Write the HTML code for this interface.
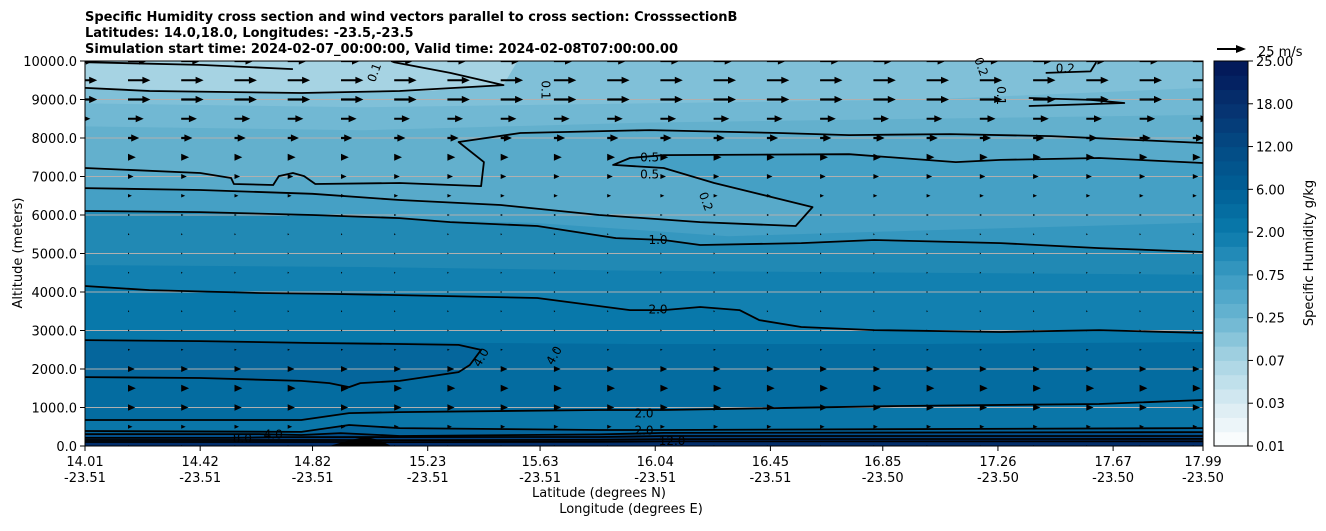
<!DOCTYPE html>
<html><head><meta charset="utf-8"><style>
body{margin:0;background:#fff}
svg text{font-family:"DejaVu Sans","Liberation Sans",sans-serif}
</style></head><body>
<svg id="chart" width="1326" height="526" xmlns="http://www.w3.org/2000/svg">
<defs><clipPath id="pc"><rect x="85" y="61" width="1118" height="385"/></clipPath></defs>
<g font-weight="bold" font-size="13">
<text x="85" y="21">Specific Humidity cross section and wind vectors parallel to cross section: CrosssectionB</text>
<text x="85" y="37">Latitudes: 14.0,18.0, Longitudes: -23.5,-23.5</text>
<text x="85" y="53">Simulation start time: 2024-02-07_00:00:00, Valid time: 2024-02-08T07:00:00.00</text>
</g>
<g id="fills" clip-path="url(#pc)"></g>
<g id="grid"></g>
<g id="lines" clip-path="url(#pc)"></g>
<g id="arrows" clip-path="url(#pc)"></g>
<g id="labels" font-size="12"></g>
<rect x="85" y="61" width="1118" height="385" fill="none" stroke="#000" stroke-width="1"/>
<g id="axes" font-size="13"></g>
<g id="cbar"></g>
<text x="599" y="497" font-size="13" text-anchor="middle">Latitude (degrees N)</text>
<text x="631" y="513" font-size="13" text-anchor="middle">Longitude (degrees E)</text>
<text transform="translate(22,253) rotate(-90)" font-size="13" text-anchor="middle">Altitude (meters)</text>
<text transform="translate(1313,253) rotate(-90)" font-size="13" text-anchor="middle">Specific Humidity g/kg</text>
<g>
<polygon points="1217,48 1236,48 1236,45 1246,49 1236,53 1236,50 1217,50" fill="#000"/>
<text x="1258" y="56" font-size="13">25 m/s</text>
</g>
</svg>
<script>
const xTickLats=[14.01,14.42,14.82,15.23,15.63,16.04,16.45,16.85,17.26,17.67,17.99];
const xTickLons=["-23.51","-23.51","-23.51","-23.51","-23.51","-23.51","-23.51","-23.50","-23.50","-23.50","-23.50"];
const yTicks=[0,1000,2000,3000,4000,5000,6000,7000,8000,9000,10000];
const cbarTicks=["0.01","0.03","0.07","0.25","0.75","2.00","6.00","12.00","18.00","25.00"];
const cbarAnchors=["#ffffff","#d8ebf2","#a8d4e3","#6ab5d1","#3a9ac2","#0a7aab","#005f96","#044a84","#06306e","#021556"];
const fillColors=["#80c0d8","#71b8d3","#63b0cd","#58aaca","#45a0c5","#3597bf","#2189b4","#1280b0","#0878aa","#046ca0","#05669c","#0a76a8","#05649b","#034f8b","#023f7d","#022d6a"];
const f0Lat=[14.01,14.42,14.82,15.23,15.5,15.55,17.99],f0Alt=[9300,9220,9170,9220,9380,10000,10000];
const f1Lat=[14.01,15,16,17,17.99],f1Alt=[8900,8800,8900,9000,9300];
const f2Lat=[14.01,15,16,17,17.99],f2Alt=[8300,8200,8400,8500,8600];
const c02Lat=[14.01,14.42,14.53,14.54,14.68,14.70,14.75,14.79,14.83,15.13,15.42,15.43,15.34,15.56,16.02,16.48,16.73,17.09,17.45,17.99];
const c02Alt=[7220,7090,6960,6805,6780,7010,7090,7010,6805,6830,6750,7375,7895,8130,8205,8130,8075,8100,8050,7870];
const c05Lat=[14.01,14.42,14.82,15.13,15.49,15.84,16.20,16.54,16.60,16.25,16.07,15.89,15.95,16.07,16.73,17.11,17.27,17.62,17.99];
const c05Alt=[6700,6650,6550,6390,6260,6000,5815,5715,6205,6830,7220,7300,7480,7555,7580,7375,7430,7480,7350];
const f5Lat=[14.01,15,15.6,16.3,17,17.99],f5Alt=[6000,5900,5800,5450,5600,5800];
const c10Lat=[14.01,14.42,14.82,15.13,15.31,15.62,15.90,16.07,16.20,16.56,16.82,17.27,17.62,17.99];
const c10Alt=[6105,6075,6000,5920,5815,5715,5400,5350,5220,5270,5350,5270,5140,5040];
const f8Lat=[14.01,15,16,17,17.99],f8Alt=[4700,4650,4550,4500,4450];
const c20Lat=[14.01,14.24,14.63,14.88,15.13,15.62,15.95,16.07,16.20,16.34,16.41,16.56,16.82,17.27,17.62,17.99];
const c20Alt=[4155,4050,3975,3950,3920,3845,3530,3530,3610,3530,3270,3090,3010,2960,3010,2935];
const f10Lat=[14.01,15,16,17,17.99],f10Alt=[2750,2700,2650,2650,2700];
const c40Lat=[14.01,14.42,14.82,15.13,15.34,15.42,15.38,15.34,15.13,14.99,14.95,14.88,14.78,14.42,14.01];
const c40Alt=[2750,2725,2675,2650,2625,2495,2105,1920,1690,1635,1530,1635,1690,1765,1790];
const c20lLat=[14.01,14.42,14.78,14.95,15.13,15.84,16.07,16.91,17.62,17.99];
const c20lAlt=[675,675,675,855,880,935,935,1040,1090,1195];
const c20bLat=[14.01,14.78,14.95,15.13,15.84,16.07,17.99];
const c20bAlt=[390,365,545,465,415,415,465];
const c40bLat=[14.01,14.63,14.78,14.92,15.13,15.84,16.07,17.99];const c40bAlt=[310,310,285,335,260,300,340,360];
const c80Lat=[14.01,14.53,14.70,15.84,16.07,17.99];const c80Alt=[210,210,230,235,260,260];
const c120Lat=[14.01,14.90,15.13,15.84,16.07,17.99];const c120Alt=[155,155,150,160,180,185];
const c160Lat=[14.01,14.90,15.13,15.84,16.07,17.99];const c160Alt=[105,105,100,110,120,120];
const mtnLat=[14.88,14.95,15.01,15.06,15.10];const mtnAlt=[0,150,240,150,0];
const c01aLat=[14.01,14.24,14.78,15.13,15.50,15.31,15.11,15.10];const c01aAlt=[9300,9220,9170,9220,9375,9690,9970,10000];
const c01bLat=[14.01,14.42,14.75];const c01bAlt=[9970,9900,9790];
const c01rLat=[17.37,17.59,17.71,17.59,17.37];const c01rAlt=[9040,8990,8910,8880,8830];
const c02rLat=[17.43,17.59,17.61];const c02rAlt=[9690,9730,9970];
const windAlts=[10000,9500,9000,8500,8000,7500,7000,6500,6000,5500,5000,4500,4000,3500,3000,2500,2000,1500,1000,500,0];
const windSpeeds=[17,20,20,14,10,7,5,3.5,2,1.3,1.2,1.2,1.2,1.2,1.3,2,6,7,6.5,4,2];
const windCols=22;
const cLabels=[["0.1",15.04,9700,-70],["0.1",15.65,9250,90],["0.1",17.27,9100,90],["0.2",17.2,9850,70],["0.2",17.5,9800,0],["0.5",16.02,7500,0],["0.5",16.02,7050,0],["0.2",16.22,6350,70],["1.0",16.05,5350,0],["2.0",16.05,3550,0],["4.0",15.42,2300,-60],["4.0",15.68,2350,-60],["2.0",16.0,850,0],["2.0",16.0,400,0],["4.0",14.68,300,0],["8.0",14.57,200,0],["12.0",16.1,130,0]];

const X0=85,X1=1203,Y0=446,Y1=61,LAT0=14.01,LAT1=17.99;
const xs=l=>X0+(l-LAT0)/(LAT1-LAT0)*(X1-X0);
const ys=a=>Y0+(a/10000)*(Y1-Y0);
const NS="http://www.w3.org/2000/svg";
function mk(t,p,at){const e=document.createElementNS(NS,t);for(const k in at)e.setAttribute(k,at[k]);p.appendChild(e);return e;}
const pts=(la,al)=>la.map((l,i)=>xs(l).toFixed(1)+","+ys(al[i]).toFixed(1)).join(" ");
const fills=document.getElementById('fills');
let bg=mk('rect',fills,{x:85,y:61,width:1118,height:385,fill:"#a6d3e3"});


const layers=[[f0Lat,f0Alt],[f1Lat,f1Alt],[f2Lat,f2Alt],[c02Lat,c02Alt],[c05Lat,c05Alt],[f5Lat,f5Alt],[c10Lat,c10Alt],[f8Lat,f8Alt],[c20Lat,c20Alt],[f10Lat,f10Alt],[c40Lat,c40Alt],[c20lLat,c20lAlt],[c20bLat,c20bAlt],[c40bLat,c40bAlt],[c80Lat,c80Alt],[c120Lat,c120Alt]];
layers.forEach((L,i)=>{
  let p;
  if(L[0]===c40Lat)p=pts(L[0],L[1])+" 85,"+ys(1790)+" 85,"+ys(2750);
  else p=xs(L[0][0])+","+ys(0)+" "+pts(L[0],L[1])+" "+xs(L[0][L[0].length-1])+","+ys(0);
  const e=mk('polygon',fills,{points:p,fill:fillColors[i]});
  
  
});
const grid=document.getElementById('grid');
yTicks.forEach(a=>{if(a>0&&a<10000){const g=mk('line',grid,{x1:85,x2:1203,y1:ys(a),y2:ys(a),stroke:"#b0b0b0","stroke-width":1});

}});
const lines=document.getElementById('lines');
[[c01aLat,c01aAlt],[c01bLat,c01bAlt],[c01rLat,c01rAlt],[c02rLat,c02rAlt],[c02Lat,c02Alt],[c05Lat,c05Alt],[c10Lat,c10Alt],[c20Lat,c20Alt],[c40Lat,c40Alt],[c20lLat,c20lAlt],[c20bLat,c20bAlt],[c40bLat,c40bAlt],[c80Lat,c80Alt],[c120Lat,c120Alt],[c160Lat,c160Alt]].forEach(L=>{
  const e=mk('polyline',lines,{points:pts(L[0],L[1]),fill:"none",stroke:"#000","stroke-width":1.8,"stroke-linejoin":"round"});
  
  
});
const m=mk('polygon',lines,{points:pts(mtnLat,mtnAlt),fill:"#000"});


const arrows=document.getElementById('arrows');
const scale=28/25;
windAlts.forEach((a,r)=>{
  const y=ys(a),sp=windSpeeds[r],len=sp*scale;
  for(let k=-1;k<windCols;k++){
    const x=128+k*53.24;let p;
    if(len>=9){const hw=3.6,sw=1.1,hl=8;p=[[x,y-sw],[x+len-hl,y-sw],[x+len-hl,y-hw],[x+len,y],[x+len-hl,y+hw],[x+len-hl,y+sw],[x,y+sw]];}
    else{const hw=Math.max(len*0.45,1);p=[[x,y-hw],[x+len,y],[x,y+hw]];}
    const e=mk('polygon',arrows,{points:p.map(q=>q[0].toFixed(1)+","+q[1].toFixed(1)).join(" "),fill:"#000"});
    
    
  }
});
const lab=document.getElementById('labels');
cLabels.forEach(c=>{const x=xs(c[1]),y=ys(c[2]);
  const t=mk('text',lab,{x:x,y:y+4,"text-anchor":"middle",transform:`rotate(${c[3]},${x},${y})`});t.textContent=c[0];
  
  });
const ax=document.getElementById('axes');
yTicks.forEach(a=>{const y=ys(a);
  const l=mk('line',ax,{x1:80,x2:85,y1:y,y2:y,stroke:"#000"});
  
  
  const t=mk('text',ax,{x:77,y:y+5,"text-anchor":"end"});t.textContent=a.toFixed(1);
  
  });
xTickLats.forEach((l,i)=>{const x=xs(l);
  const tk=mk('line',ax,{x1:x,x2:x,y1:446,y2:451,stroke:"#000"});
  
  
  const t=mk('text',ax,{x:x,y:466,"text-anchor":"middle"});t.textContent=l.toFixed(2);
  
  
  const t2=mk('text',ax,{x:x,y:482,"text-anchor":"middle"});t2.textContent=xTickLons[i];
  
  });
const cb=document.getElementById('cbar');
const hex=h=>[1,3,5].map(i=>parseInt(h.substr(i,2),16));
const nb=27,bh=385/nb;
for(let b=0;b<nb;b++){const f=b/3,i=Math.floor(f),fr=f-i;const A=hex(cbarAnchors[i]),B=hex(cbarAnchors[Math.min(i+1,9)]);
  const c=A.map((v,j)=>Math.round(v+(B[j]-v)*(fr+1/6)));
  const e=mk('rect',cb,{x:1214,y:446-(b+1)*bh,width:34,height:bh+0.5,fill:`rgb(${c})`});
  
  }
mk('rect',cb,{x:1214,y:61,width:34,height:385,fill:"none",stroke:"#000"});
cbarTicks.forEach((s,i)=>{const y=446-i*385/9;
  const l=mk('line',cb,{x1:1248,x2:1253,y1:y,y2:y,stroke:"#000"});
  
  
  const t=mk('text',cb,{x:1256,y:y+5,"font-size":13});t.textContent=s;
  
  });
</script>
</body></html>
